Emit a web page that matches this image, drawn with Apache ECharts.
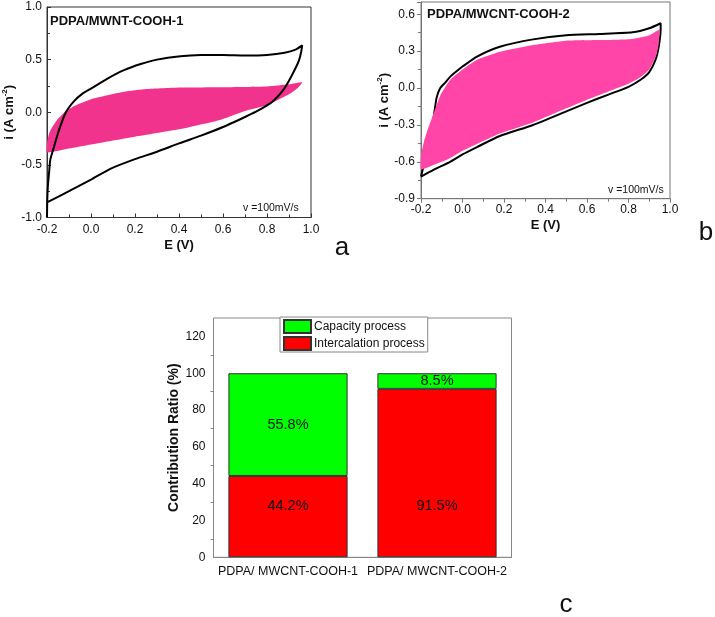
<!DOCTYPE html>
<html>
<head>
<meta charset="UTF-8">
<title>CV curves and contribution ratio</title>
<script src="https://cdn.jsdelivr.net/npm/echarts@6/dist/echarts.min.js"></script>
<style>html,body{margin:0;padding:0;background:#fff;}</style>
</head>
<body>
<div id="main" style="width:715px;height:617px;"></div>
<script>
// panel a: PDPA/MWNT-COOH-1, black CV loop and pink band, [E (V), i (A cm-2)]
var cvBlackA = [
  [-0.2, -1.0], [-0.199, -0.85], [-0.196, -0.7], [-0.19, -0.56], [-0.185, -0.45], [-0.167, -0.32],
  [-0.144, -0.16], [-0.114, 0.0], [-0.076, 0.108], [-0.04, 0.175], [0.0, 0.225], [0.075, 0.32],
  [0.15, 0.4], [0.226, 0.458], [0.3, 0.5], [0.407, 0.532], [0.5, 0.544], [0.6, 0.545], [0.7, 0.54],
  [0.8, 0.545], [0.88, 0.565], [0.93, 0.595], [0.96, 0.635],
  [0.955, 0.57], [0.945, 0.49], [0.93, 0.42], [0.9, 0.3], [0.87, 0.2], [0.83, 0.11], [0.8, 0.065],
  [0.75, 0.005], [0.7, -0.045], [0.6, -0.14], [0.5, -0.222], [0.4, -0.296],
  [0.3, -0.375], [0.2, -0.445], [0.09, -0.535], [0.0, -0.64], [-0.1, -0.75], [-0.2, -0.857]
];
var cvPinkA = [
  [-0.2, -0.29], [-0.19, -0.2], [-0.182, -0.162], [-0.152, -0.067], [-0.114, 0.012], [-0.076, 0.06],
  [0.0, 0.124], [0.15, 0.194], [0.25, 0.22], [0.407, 0.235], [0.6, 0.238], [0.8, 0.245], [0.9, 0.265],
  [0.96, 0.285],
  [0.94, 0.23], [0.9, 0.17], [0.8, 0.067], [0.7, 0.012], [0.587, -0.073], [0.4, -0.162], [0.2, -0.232],
  [0.0, -0.306], [-0.1, -0.345], [-0.2, -0.382]
];

// panel b: PDPA/MWCNT-COOH-2
var cvBlackB = [
  [-0.2, -0.72], [-0.18, -0.58], [-0.16, -0.42], [-0.14, -0.25], [-0.125, -0.08],
  [-0.107, 0.0], [-0.08, 0.05], [-0.059, 0.093], [-0.03, 0.135], [0.0, 0.175], [0.07, 0.256],
  [0.18, 0.336], [0.34, 0.396], [0.5, 0.43], [0.66, 0.44], [0.82, 0.453], [0.9, 0.486], [0.955, 0.527],
  [0.955, 0.48], [0.945, 0.33], [0.93, 0.23], [0.9, 0.13], [0.86, 0.07], [0.8, 0.01], [0.7, -0.055],
  [0.6, -0.12], [0.5, -0.19], [0.34, -0.3], [0.18, -0.39], [0.07, -0.48], [0.0, -0.54], [-0.06, -0.6],
  [-0.14, -0.665], [-0.2, -0.72]
];
var cvPinkB = [
  [-0.2, -0.55], [-0.185, -0.43], [-0.17, -0.35], [-0.14, -0.21], [-0.107, -0.06], [-0.06, 0.065],
  [0.0, 0.15], [0.07, 0.23], [0.18, 0.295], [0.34, 0.35], [0.5, 0.385], [0.66, 0.39], [0.82, 0.4],
  [0.9, 0.43], [0.95, 0.477],
  [0.95, 0.45], [0.945, 0.35], [0.933, 0.26], [0.9, 0.15], [0.86, 0.09], [0.8, 0.035], [0.7, -0.03],
  [0.6, -0.095], [0.5, -0.165], [0.34, -0.28], [0.18, -0.37], [0.07, -0.455], [0.0, -0.51], [-0.06, -0.57],
  [-0.14, -0.625], [-0.2, -0.66]
];

// panel c: contribution ratio (%)
var samples = ['PDPA/ MWCNT-COOH-1', 'PDPA/ MWCNT-COOH-2'];
var intercalation = [44.2, 91.5];
var capacity = [55.8, 8.5];

var FONT = 'Liberation Sans, Arial, sans-serif';
var myChart = echarts.init(document.getElementById('main'));

function fmt1(v) { return v.toFixed(1); }

function cvXAxis(idx, gap, tickInside, lineColor) {
  return {
    type: 'value', gridIndex: idx, min: -0.2, max: 1.0, interval: 0.2,
    name: 'E (V)', nameLocation: 'middle', nameGap: gap,
    nameTextStyle: { fontFamily: FONT, fontWeight: 'bold', fontSize: 13, color: '#111' },
    axisLine: { onZero: false, lineStyle: { color: lineColor, width: 1 } },
    axisTick: { inside: tickInside, length: 4, lineStyle: { color: lineColor } },
    minorTick: { show: true, splitNumber: 2, length: 3, lineStyle: { color: lineColor } },
    axisLabel: { formatter: fmt1, fontFamily: FONT, fontSize: 12, color: '#111', margin: tickInside ? 6 : 5 },
    splitLine: { show: false }
  };
}

function polygonSeries(pts, idx, color, z) {
  return {
    type: 'custom', xAxisIndex: idx, yAxisIndex: idx, data: pts, z: z, silent: true,
    renderItem: function (params, api) {
      if (params.dataIndex !== 0) return null;
      return {
        type: 'polygon',
        shape: { points: pts.map(function (p) { return api.coord(p); }), smooth: 0.15 },
        style: { fill: color }
      };
    }
  };
}

function loopSeries(pts, idx, z) {
  return {
    type: 'line', xAxisIndex: idx, yAxisIndex: idx, data: pts, z: z, silent: true,
    showSymbol: false, smooth: 0.2,
    lineStyle: { color: '#000', width: 2 }
  };
}

var supName = '{b|i (A cm}{s|-2}{b|)}';
var supRich = {
  b: { fontFamily: FONT, fontWeight: 'bold', fontSize: 13, color: '#111', lineHeight: 16 },
  s: { fontFamily: FONT, fontWeight: 'bold', fontSize: 8, color: '#111', verticalAlign: 'top', lineHeight: 16 }
};

var option = {
  animation: false,
  backgroundColor: '#fff',
  grid: [
    { left: 46, top: 7, width: 265, height: 210.5, show: true, borderColor: '#333', borderWidth: 1 },
    { left: 421, top: 2, width: 249, height: 196.7, show: true, borderColor: '#777', borderWidth: 1 },
    { left: 213.5, top: 318, width: 298, height: 239.3, show: true, borderColor: '#888', borderWidth: 1 }
  ],
  xAxis: [
    cvXAxis(0, 21, true, '#333'),
    cvXAxis(1, 20, false, '#777'),
    {
      type: 'category', gridIndex: 2, data: samples,
      axisLine: { lineStyle: { color: '#888' } },
      axisTick: { alignWithLabel: true, length: 5, lineStyle: { color: '#888' } },
      axisLabel: { interval: 0, fontFamily: FONT, fontSize: 12.5, color: '#111', margin: 8 }
    }
  ],
  yAxis: [
    {
      type: 'value', gridIndex: 0, min: -1, max: 1, interval: 0.5,
      name: supName, nameLocation: 'middle', nameGap: 30,
      nameTextStyle: { rich: supRich },
      axisLine: { onZero: false, lineStyle: { color: '#333' } },
      axisTick: { inside: true, length: 4, lineStyle: { color: '#333' } },
      minorTick: { show: true, splitNumber: 2, length: 3, lineStyle: { color: '#333' } },
      axisLabel: { formatter: fmt1, fontFamily: FONT, fontSize: 12, color: '#111', margin: 5 },
      splitLine: { show: false }
    },
    {
      type: 'value', gridIndex: 1, min: -0.9, max: 0.7, interval: 0.3,
      name: supName, nameLocation: 'middle', nameGap: 29,
      nameTextStyle: { rich: supRich },
      axisLine: { onZero: false, lineStyle: { color: '#777' } },
      axisTick: { length: 4, lineStyle: { color: '#777' } },
      minorTick: { show: true, splitNumber: 2, length: 3, lineStyle: { color: '#777' } },
      axisLabel: { formatter: fmt1, fontFamily: FONT, fontSize: 12, color: '#111', margin: 6, showMaxLabel: false },
      splitLine: { show: false }
    },
    {
      type: 'value', gridIndex: 2, min: 0, max: 130, interval: 20,
      name: 'Contribution Ratio (%)', nameLocation: 'middle', nameGap: 29,
      nameTextStyle: { fontFamily: FONT, fontWeight: 'bold', fontSize: 14, color: '#111' },
      axisLine: { lineStyle: { color: '#888' } },
      axisTick: { length: 5, lineStyle: { color: '#888' } },
      minorTick: { show: true, splitNumber: 2, length: 3, lineStyle: { color: '#888' } },
      axisLabel: { fontFamily: FONT, fontSize: 12, color: '#111', margin: 8, showMaxLabel: false },
      splitLine: { show: false }
    }
  ],
  legend: {
    data: ['Capacity process', 'Intercalation process'],
    orient: 'vertical', left: 280, top: 317,
    itemWidth: 27, itemHeight: 13, itemGap: 2,
    padding: [2, 3, 1, 3],
    borderColor: '#888', borderWidth: 1, backgroundColor: '#fff',
    icon: 'rect',
    textStyle: { fontFamily: FONT, fontSize: 12, color: '#111', padding: [0, 0, 0, -2] }
  },
  graphic: [
    { type: 'text', left: 50, top: 15, style: { text: 'PDPA/MWNT-COOH-1', font: 'bold 13px ' + FONT, fill: '#111' } },
    { type: 'text', left: 243, top: 203, style: { text: 'v =100mV/s', font: '10.5px ' + FONT, fill: '#111' } },
    { type: 'text', left: 427, top: 8, style: { text: 'PDPA/MWCNT-COOH-2', font: 'bold 13px ' + FONT, fill: '#111' } },
    { type: 'text', left: 608, top: 185, style: { text: 'v =100mV/s', font: '10.5px ' + FONT, fill: '#111' } },
    { type: 'text', x: 342, y: 248, style: { text: 'a', font: '26px ' + FONT, fill: '#111', align: 'center', verticalAlign: 'middle' } },
    { type: 'text', x: 706, y: 233, style: { text: 'b', font: '26px ' + FONT, fill: '#111', align: 'center', verticalAlign: 'middle' } },
    { type: 'text', x: 566, y: 605, style: { text: 'c', font: '26px ' + FONT, fill: '#111', align: 'center', verticalAlign: 'middle' } }
  ],
  series: [
    polygonSeries(cvPinkA, 0, '#f2338e', 2),
    loopSeries(cvBlackA, 0, 3),
    loopSeries(cvBlackB, 1, 2),
    polygonSeries(cvPinkB, 1, '#ff45a8', 3),
    {
      name: 'Intercalation process', type: 'bar', xAxisIndex: 2, yAxisIndex: 2, stack: 'ratio',
      data: intercalation, barWidth: '80%',
      itemStyle: { color: '#ff0000', borderColor: '#333', borderWidth: 1 },
      label: { show: true, position: 'insideBottom', distance: 44, formatter: '{c}%',
               fontFamily: FONT, fontSize: 14.5, color: '#111' }
    },
    {
      name: 'Capacity process', type: 'bar', xAxisIndex: 2, yAxisIndex: 2, stack: 'ratio',
      data: capacity, barWidth: '80%',
      itemStyle: { color: '#00ff00', borderColor: '#333', borderWidth: 1 },
      label: { show: true, position: 'inside', formatter: '{c}%',
               fontFamily: FONT, fontSize: 14.5, color: '#111' }
    }
  ]
};

myChart.setOption(option);
</script>
</body>
</html>
